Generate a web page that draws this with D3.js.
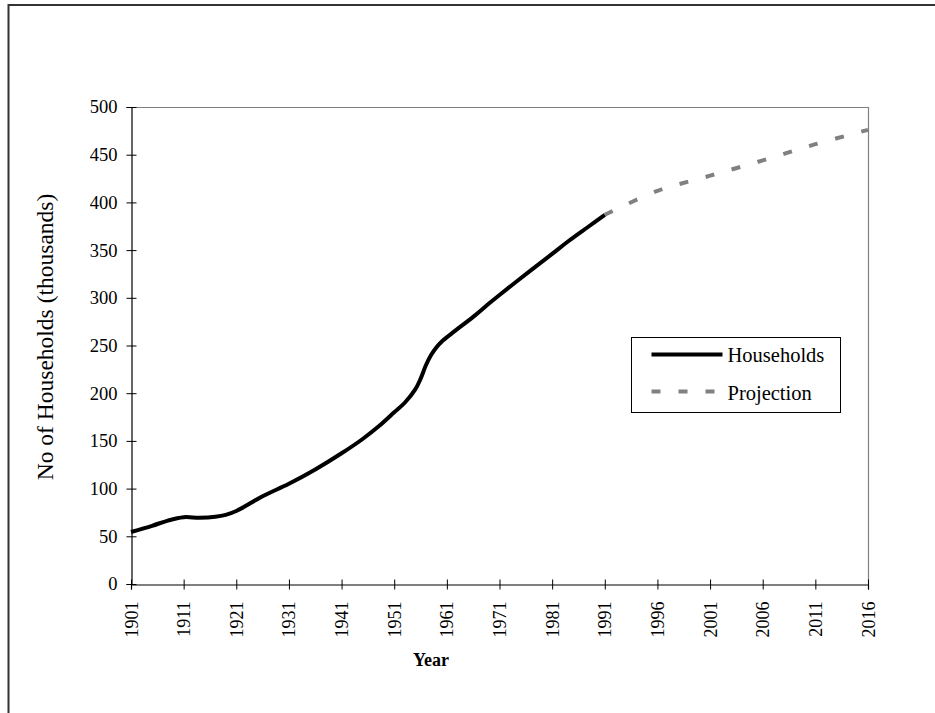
<!DOCTYPE html>
<html>
<head>
<meta charset="utf-8">
<script src="https://cdn.jsdelivr.net/npm/d3@7"></script>
<style>
  html, body { margin: 0; padding: 0; background: #fff; }
  svg { display: block; }
  text { font-family: "Liberation Serif", "Times New Roman", serif; fill: #000; }
</style>
</head>
<body>
<svg id="chart" width="935" height="713"></svg>
<script>
// Households (thousands), census years and interim estimates
const householdYears  = [1901, 1905, 1908, 1911, 1914, 1917, 1919, 1921, 1926, 1931, 1936, 1941, 1945, 1948, 1951, 1953, 1955, 1956, 1957, 1958, 1959, 1960, 1962, 1966, 1969, 1971, 1977, 1981, 1984, 1988, 1991];
const householdValues = [54.5, 61, 66.5, 70, 69.5, 70.5, 72.5, 76.5, 92, 105, 120, 137, 152, 165, 180, 190, 204, 215, 229, 240, 248, 254, 263, 280, 294, 303, 329, 346, 359, 375, 387];

// Projected households (thousands)
const projectionYears  = [1991, 1996, 2001, 2006, 2011, 2016];
const projectionValues = [387, 412, 428, 444, 461, 476];

// Category labels on the year axis
const yearTicks = [1901, 1911, 1921, 1931, 1941, 1951, 1961, 1971, 1981, 1991, 1996, 2001, 2006, 2011, 2016];
const valueTicks = [0, 50, 100, 150, 200, 250, 300, 350, 400, 450, 500];

const svg = d3.select("#chart");

const plot = { left: 131, top: 107, right: 868, bottom: 584 };
const step = (plot.right - plot.left) / (yearTicks.length - 1);

// Decades up to 1991, then five-year steps, each category the same width
const x = d3.scaleLinear()
  .domain([1901, 1991, 2016])
  .range([plot.left, plot.left + 9 * step, plot.right]);
const y = d3.scaleLinear().domain([0, 500]).range([plot.bottom, plot.top]);

// Outer frame
svg.append("rect")
  .attr("x", 8.5).attr("y", 5)
  .attr("width", 960).attr("height", 740)
  .attr("fill", "none").attr("stroke", "#333").attr("stroke-width", 2);

// Plot area border (top and right)
svg.append("path")
  .attr("d", `M${plot.left},${plot.top + 0.5}H${plot.right + 0.5}V${plot.bottom}`)
  .attr("fill", "none").attr("stroke", "#808080").attr("stroke-width", 1.2);

// Y axis
const yAxis = svg.append("g")
  .attr("transform", `translate(${plot.left + 0.5},0)`)
  .call(d3.axisLeft(y).tickValues(valueTicks).tickSize(5).tickPadding(9));
yAxis.select(".domain").attr("stroke", "#000").attr("stroke-width", 1.2);
yAxis.selectAll(".tick line").attr("x1", 5).attr("x2", -5).attr("stroke", "#000");
yAxis.selectAll(".tick text")
  .style("font-family", "Liberation Serif, serif").style("font-size", "18.5px").attr("fill", "#000");

// X axis
const xAxis = svg.append("g")
  .attr("transform", `translate(0,${plot.bottom + 0.5})`)
  .call(d3.axisBottom(x).tickValues(yearTicks).tickFormat(d3.format("d")).tickSize(5));
xAxis.select(".domain").attr("stroke", "#000").attr("stroke-width", 1.2);
xAxis.selectAll(".tick line").attr("y1", -5).attr("y2", 5).attr("stroke", "#000");
xAxis.selectAll(".tick text")
  .style("font-family", "Liberation Serif, serif").style("font-size", "18px").attr("fill", "#000")
  .attr("text-anchor", "end")
  .attr("dy", null)
  .attr("transform", "rotate(-90)")
  .attr("x", -17)
  .attr("y", 6);

// Axis titles
svg.append("text")
  .attr("transform", `translate(53,337) rotate(-90)`)
  .attr("text-anchor", "middle")
  .style("font-size", "23.5px")
  .text("No of Households (thousands)");

svg.append("text")
  .attr("x", 431).attr("y", 666)
  .attr("text-anchor", "middle")
  .style("font-size", "18px").style("font-weight", "bold")
  .text("Year");

// Series
const line = d3.line()
  .x(d => x(d[0]))
  .y(d => y(d[1]))
  .curve(d3.curveCatmullRom.alpha(0.5));

svg.append("path")
  .datum(projectionYears.map((yr, i) => [yr, projectionValues[i]]))
  .attr("d", line)
  .attr("fill", "none")
  .attr("stroke", "#808080")
  .attr("stroke-width", 4)
  .attr("stroke-dasharray", "9,18");

svg.append("path")
  .datum(householdYears.map((yr, i) => [yr, householdValues[i]]))
  .attr("d", line)
  .attr("fill", "none")
  .attr("stroke", "#000")
  .attr("stroke-width", 4)
  .attr("stroke-linejoin", "round");

// Legend
const legend = svg.append("g").attr("transform", "translate(631.5,337.5)");
legend.append("rect")
  .attr("width", 209).attr("height", 75)
  .attr("fill", "#fff").attr("stroke", "#000").attr("stroke-width", 1);
legend.append("line")
  .attr("x1", 20).attr("x2", 91).attr("y1", 17).attr("y2", 17)
  .attr("stroke", "#000").attr("stroke-width", 4);
legend.append("text").attr("x", 96).attr("y", 24.5).style("font-size", "20.5px").text("Households");
legend.append("line")
  .attr("x1", 20).attr("x2", 91).attr("y1", 54).attr("y2", 54)
  .attr("stroke", "#808080").attr("stroke-width", 4).attr("stroke-dasharray", "9,18");
legend.append("text").attr("x", 96).attr("y", 62.5).style("font-size", "20.5px").text("Projection");
</script>
</body>
</html>
